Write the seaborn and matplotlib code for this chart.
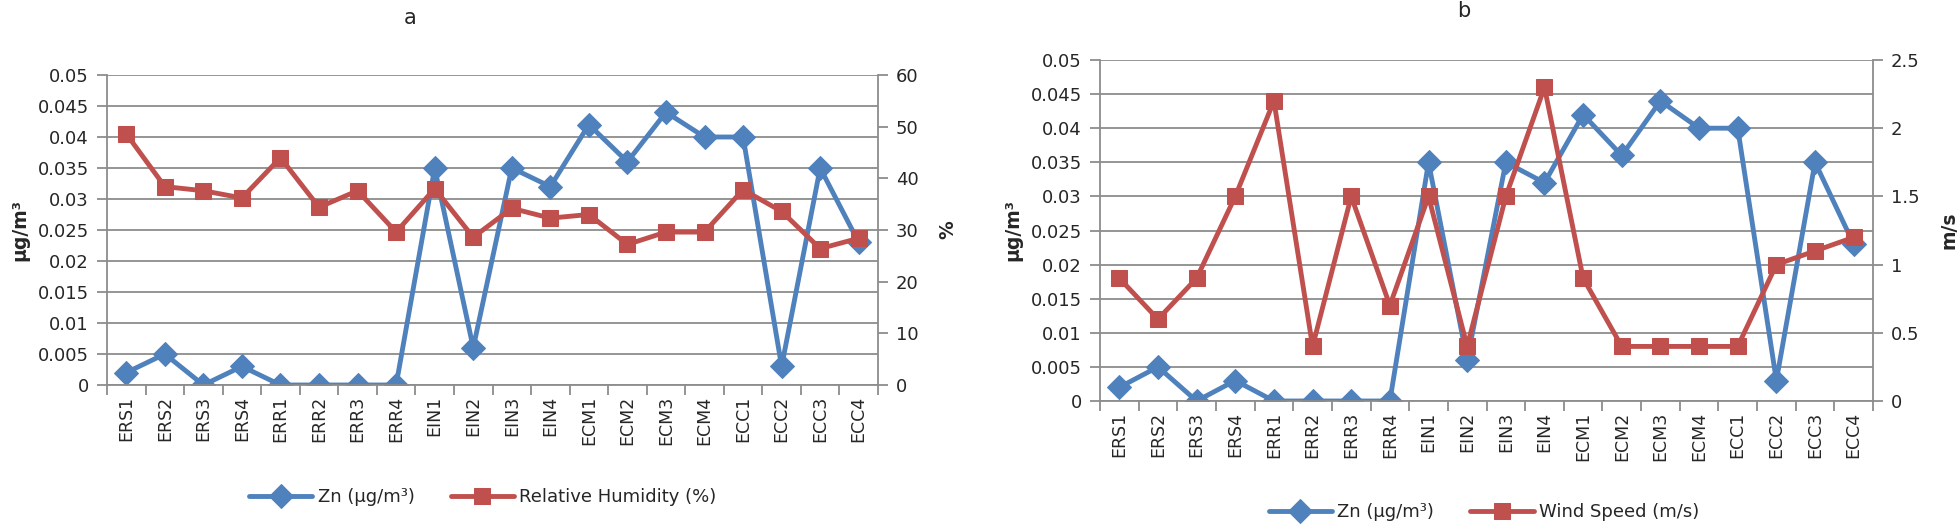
import numpy as np
import pandas as pd
import seaborn as sns
import matplotlib.pyplot as plt
from matplotlib.ticker import FixedLocator

# sampling sites and measured values
sites = ["ERS1", "ERS2", "ERS3", "ERS4", "ERR1", "ERR2", "ERR3", "ERR4",
         "EIN1", "EIN2", "EIN3", "EIN4", "ECM1", "ECM2", "ECM3", "ECM4",
         "ECC1", "ECC2", "ECC3", "ECC4"]
zn = [0.002, 0.005, 0.0, 0.003, 0.0, 0.0, 0.0, 0.0,
      0.035, 0.006, 0.035, 0.032, 0.042, 0.036, 0.044, 0.040,
      0.040, 0.003, 0.035, 0.023]
rel_humidity = [48.6, 38.4, 37.6, 36.2, 44.0, 34.4, 37.6, 29.6,
                38.0, 28.6, 34.2, 32.3, 33.0, 27.2, 29.6, 29.6,
                37.8, 33.6, 26.4, 28.4]
wind_speed = [0.9, 0.6, 0.9, 1.5, 2.2, 0.4, 1.5, 0.7,
              1.5, 0.4, 1.5, 2.3, 0.9, 0.4, 0.4, 0.4,
              0.4, 1.0, 1.1, 1.2]

zn_ticks = ["0", "0.005", "0.01", "0.015", "0.02", "0.025",
            "0.03", "0.035", "0.04", "0.045", "0.05"]
rh_ticks = ["0", "10", "20", "30", "40", "50", "60"]
ws_ticks = ["0", "0.5", "1", "1.5", "2", "2.5"]

BLUE = "#4F81BD"
RED = "#C0504D"
GRID = "#8C8C8C"

sns.set_style("white")
plt.rcParams["font.family"] = ["DejaVu Sans"]

df = pd.DataFrame({"pos": np.arange(len(sites)), "site": sites, "zn": zn,
                   "rh": rel_humidity, "ws": wind_speed})

fig = plt.figure(figsize=(19.6, 5.25), dpi=100)


def style_axis(ax, side):
    for s in ["top", "left", "right", "bottom"]:
        ax.spines[s].set_visible(False)
    ax.spines[side].set_visible(True)
    ax.spines[side].set_color(GRID)
    ax.spines[side].set_linewidth(1.3)
    ax.tick_params(axis="y", length=7, width=1.3, color=GRID, labelsize=13,
                   pad=6, left=(side == "left"), right=(side == "right"),
                   labelleft=(side == "left"), labelright=(side == "right"))


def make_panel(rect, second, second_ticks, second_max, ylabel2, legend2,
               title, title_xy, legend_xy):
    ax = fig.add_axes(rect)
    sns.lineplot(data=df, x="pos", y="zn", ax=ax, color=BLUE, lw=3.5,
                 marker="D", markersize=12, markeredgecolor=BLUE,
                 label="Zn (µg/m³)", legend=False)
    ax.set_xlim(-0.5, len(sites) - 0.5)
    ax.set_ylim(0, 0.05)
    ax.set_yticks(np.linspace(0, 0.05, 11))
    ax.set_yticklabels(zn_ticks)
    ax.yaxis.grid(True, color=GRID, lw=1.3)
    ax.set_axisbelow(True)
    style_axis(ax, "left")
    ax.spines["bottom"].set_visible(True)
    ax.spines["bottom"].set_color(GRID)
    ax.spines["bottom"].set_linewidth(1.3)
    ax.set_xticks(df["pos"])
    ax.set_xticklabels(sites, rotation=90, fontsize=12.5)
    ax.tick_params(axis="x", which="major", length=0, pad=8)
    ax.xaxis.set_minor_locator(FixedLocator(np.arange(-0.5, len(sites), 1.0)))
    ax.tick_params(axis="x", which="minor", bottom=True, length=7,
                   width=1.3, color=GRID)
    ax.set_xlabel("")
    ax.set_ylabel("µg/m³", fontsize=13.5, fontweight="bold", labelpad=6)

    ax2 = ax.twinx()
    sns.lineplot(data=df, x="pos", y=second, ax=ax2, color=RED, lw=3.5,
                 marker="s", markersize=11, markeredgecolor=RED,
                 label=legend2, legend=False)
    ax2.set_ylim(0, second_max)
    ax2.set_yticks(np.linspace(0, second_max, len(second_ticks)))
    ax2.set_yticklabels(second_ticks)
    ax2.grid(False)
    style_axis(ax2, "right")
    ax2.set_ylabel(ylabel2, fontsize=13.5, fontweight="bold", labelpad=14)

    fig.text(title_xy[0], title_xy[1], title, fontsize=15,
             ha="center", va="center")
    handles = ax.lines[:1] + ax2.lines[:1]
    fig.legend(handles, ["Zn (µg/m³)", legend2], loc="center",
               bbox_to_anchor=legend_xy, ncol=2, frameon=False,
               fontsize=13, handlelength=3.5, columnspacing=2.0,
               handletextpad=0.3)


make_panel([107 / 1960, 1 - 385 / 525, 771 / 1960, 310 / 525],
           "rh", rh_ticks, 60, "%", "Relative Humidity (%)",
           "a", (410 / 1960, 1 - 18 / 525), (483 / 1960, 1 - 497 / 525))
make_panel([1100 / 1960, 1 - 401 / 525, 773 / 1960, 341 / 525],
           "ws", ws_ticks, 2.5, "m/s", "Wind Speed (m/s)",
           "b", (1464 / 1960, 1 - 11 / 525), (1484 / 1960, 1 - 512 / 525))

plt.savefig("out.png", dpi=100)
